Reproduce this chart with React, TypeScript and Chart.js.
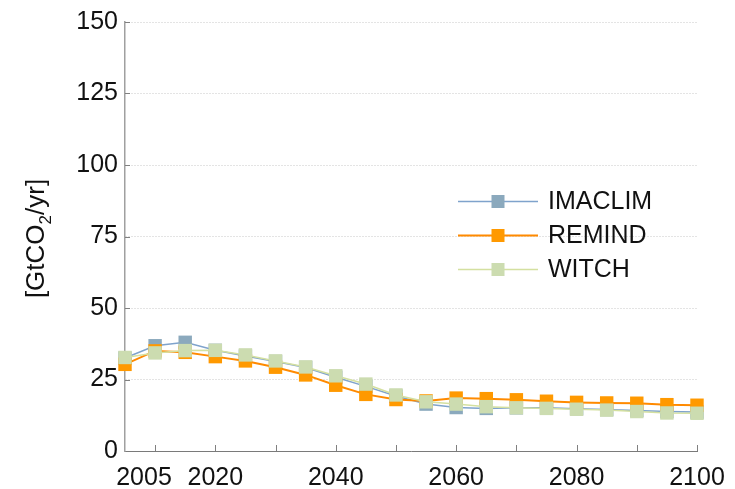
import React, { useEffect, useRef } from "react";
import { Chart, registerables } from "chart.js";

Chart.register(...registerables);

const years = [2005, 2010, 2015, 2020, 2025, 2030, 2035, 2040, 2045, 2050, 2055, 2060, 2065, 2070, 2075, 2080, 2085, 2090, 2095, 2100];
const imaclim = [32.5, 36.8, 38.0, 35.2, 33.2, 31.3, 29.2, 25.8, 22.6, 19.2, 16.4, 15.2, 14.9, 15.1, 15.1, 14.8, 14.5, 14.2, 13.8, 13.6];
const remind = [30.3, 35.0, 34.5, 33.0, 31.5, 29.3, 26.6, 23.0, 19.8, 18.0, 17.5, 18.5, 18.3, 17.9, 17.4, 17.0, 16.8, 16.7, 16.2, 16.0];
const witch = [32.7, 34.3, 35.1, 35.2, 33.6, 31.5, 29.4, 26.3, 23.4, 19.6, 17.2, 16.4, 15.5, 15.1, 14.9, 14.6, 14.3, 13.8, 13.3, 13.2];

const seriesNames = ["IMACLIM", "REMIND", "WITCH"];
const lineColors = ["#7fa3cc", "#ff8a00", "#d4e0a0"];
const markerColors = ["#8ba9bd", "#ff9900", "#ccdcb0"];
const lineWidths = [1.5, 2, 1.5];

const yTickValues = [0, 25, 50, 75, 100, 125, 150];
const xTickMarks = [2010, 2020, 2030, 2040, 2050, 2060, 2070, 2080, 2090, 2100];
const xLabelValues = [2005, 2020, 2040, 2060, 2080, 2100];
const xLabels = ["2005", "2020", "2040", "2060", "2080", "2100"];

const FONT = '"Liberation Sans", Arial, Helvetica, sans-serif';

const decor = {
  id: "decor",
  afterDraw(chart: any) {
    const { ctx, chartArea } = chart;
    const xs = chart.scales.x;
    const ys = chart.scales.y;
    ctx.save();
    ctx.strokeStyle = "#808080";
    ctx.lineWidth = 1;
    for (const v of yTickValues) {
      if (v === 0) continue;
      const py = Math.round(ys.getPixelForValue(v)) + 0.5;
      ctx.beginPath();
      ctx.moveTo(chartArea.left, py);
      ctx.lineTo(chartArea.left + 5, py);
      ctx.stroke();
    }
    for (const v of xTickMarks) {
      const px = Math.round(xs.getPixelForValue(v)) + 0.5;
      ctx.beginPath();
      ctx.moveTo(px, chartArea.bottom);
      ctx.lineTo(px, chartArea.bottom - 6);
      ctx.stroke();
    }
    ctx.font = "25px " + FONT;
    ctx.fillStyle = "#111111";
    ctx.textAlign = "center";
    ctx.textBaseline = "alphabetic";
    xLabelValues.forEach((v, i) => {
      let px = xs.getPixelForValue(v);
      if (i === 0) px += 19;
      ctx.fillText(xLabels[i], px, chartArea.bottom + 34);
    });
    const cy = (chartArea.top + chartArea.bottom) / 2 + 2;
    ctx.translate(35, cy);
    ctx.rotate(-Math.PI / 2);
    const bigFont = "26px " + FONT;
    const subFont = "17px " + FONT;
    const parts = [
      { t: "[GtCO", f: bigFont, dy: 0 },
      { t: "2", f: subFont, dy: 7 },
      { t: "/yr]", f: bigFont, dy: 0 },
    ];
    let total = 0;
    for (const p of parts) {
      ctx.font = p.f;
      total += ctx.measureText(p.t).width;
    }
    let cx = -total / 2;
    ctx.textAlign = "left";
    ctx.textBaseline = "alphabetic";
    for (const p of parts) {
      ctx.font = p.f;
      ctx.fillText(p.t, cx, 9 + p.dy);
      cx += ctx.measureText(p.t).width;
    }
    ctx.restore();

    ctx.save();
    const rows = [201.5, 235.5, 269.5];
    seriesNames.forEach((name, i) => {
      const ly = rows[i];
      ctx.strokeStyle = lineColors[i];
      ctx.lineWidth = lineWidths[i];
      ctx.beginPath();
      ctx.moveTo(458, ly);
      ctx.lineTo(538, ly);
      ctx.stroke();
      ctx.fillStyle = markerColors[i];
      ctx.fillRect(491.5, ly - 6.5, 13, 13);
      ctx.fillStyle = "#111111";
      ctx.font = "25px " + FONT;
      ctx.textAlign = "left";
      ctx.textBaseline = "middle";
      ctx.fillText(name, 548, ly + 1);
    });
    ctx.restore();
  },
};

export default function App() {
  const canvasRef = useRef<HTMLCanvasElement | null>(null);

  useEffect(() => {
    document.body.style.margin = "0";
    const canvas = canvasRef.current;
    if (!canvas) return;
    const series = [imaclim, remind, witch];
    const chart = new Chart(canvas, {
      type: "line",
      data: {
        datasets: series.map((vals, i) => ({
          label: seriesNames[i],
          data: years.map((yr, j) => ({ x: yr, y: vals[j] })),
          borderColor: lineColors[i],
          backgroundColor: markerColors[i],
          pointBackgroundColor: markerColors[i],
          pointBorderColor: markerColors[i],
          pointBorderWidth: 0,
          pointStyle: "rect",
          pointRadius: 9.5,
          borderWidth: lineWidths[i],
          tension: 0,
          fill: false,
          order: 3 - i,
          clip: false as any,
        })),
      },
      options: {
        responsive: false,
        animation: false,
        events: [],
        layout: { padding: { top: 19, right: 38, left: 0, bottom: 0 } },
        plugins: {
          legend: { display: false },
          tooltip: { enabled: false },
          title: { display: false },
        },
        scales: {
          x: {
            type: "linear",
            min: 2005,
            max: 2100,
            grid: { display: false, drawTicks: false },
            border: { display: true, color: "#7a7a7a", width: 1 },
            ticks: { display: false },
            afterFit: (s: any) => {
              s.height = 38;
            },
          },
          y: {
            type: "linear",
            min: 0,
            max: 150,
            afterBuildTicks: (s: any) => {
              s.ticks = yTickValues.map((v) => ({ value: v }));
            },
            grid: { display: true, drawTicks: false, color: "#c8c8c8", lineWidth: 1 },
            border: { display: true, color: "#a0a0a0", width: 1.5, dash: [1, 2] },
            ticks: {
              padding: 7,
              color: "#111111",
              font: { size: 25, family: FONT },
            },
            afterFit: (s: any) => {
              s.width = 125;
            },
          },
        },
      },
      plugins: [decor],
    });
    return () => chart.destroy();
  }, []);

  return (
    <div style={{ position: "absolute", left: 0, top: 0, width: 735, height: 489, background: "#ffffff" }}>
      <canvas ref={canvasRef} width={735} height={489} style={{ display: "block" }} />
    </div>
  );
}
